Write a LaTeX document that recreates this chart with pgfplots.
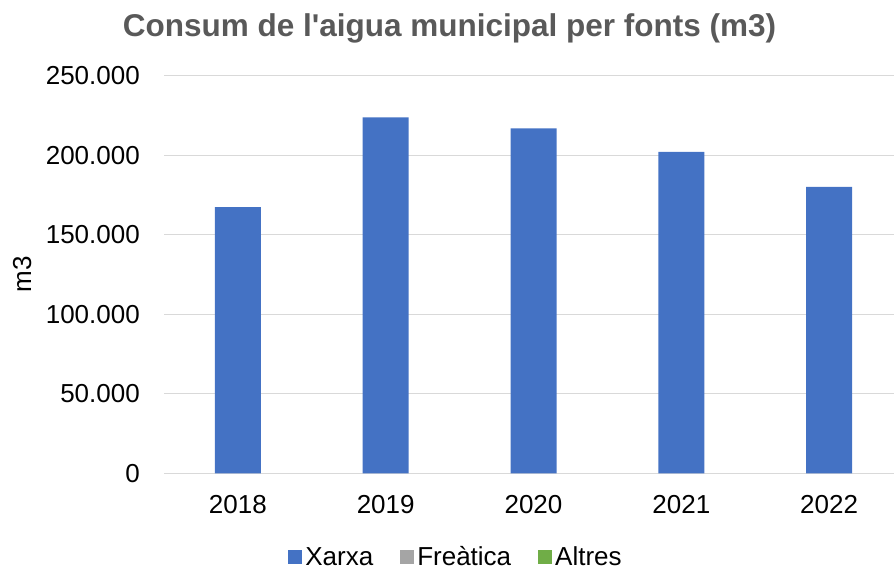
\documentclass[border=0pt]{standalone}
\usepackage{fontspec}
\setmainfont{Liberation Sans}
\usepackage{pgfplots}
\pgfplotsset{compat=1.18}
\definecolor{xarxa}{HTML}{4472C4}
\definecolor{freatica}{HTML}{A5A5A5}
\definecolor{altres}{HTML}{70AD47}
\definecolor{titlegray}{HTML}{595959}
\definecolor{gridgray}{HTML}{D9D9D9}
\begin{document}
\begin{tikzpicture}
\useasboundingbox (0,0) rectangle (894pt,577pt);
\begin{axis}[
  at={(164pt,103.7pt)}, anchor=south west,
  scale only axis, width=739pt, height=397.8pt,
  xmin=-0.5, xmax=4.5, ymin=0, ymax=250000,
  ytick={0,50000,100000,150000,200000,250000},
  xtick={0,1,2,3,4},
  xticklabels={2018,2019,2020,2021,2022},
  scaled y ticks=false,
  yticklabel={\pgfmathprintnumber[fixed,precision=0,1000 sep={.},assume math mode=true]{\tick}},
  axis line style={draw=none},
  major tick length=0pt,
  ymajorgrids, grid style={gridgray, line width=1pt},
  ticklabel style={font=\fontsize{26}{31}\selectfont, text=black},
  yticklabel style={inner sep=0pt, xshift=-24pt},
  xticklabel style={inner sep=0pt, yshift=-22pt},
  ylabel={m3},
  ylabel style={font=\fontsize{26}{31}\selectfont, at={(axis description cs:-0.192,0.5)}, anchor=center},
  title={Consum de l\textquotesingle aigua municipal per fonts (m3)},
  title style={font=\fontsize{31.5}{37}\selectfont\bfseries, text=titlegray, at={(axis description cs:0.3863,1.104)}, anchor=center},
  legend columns=3,
  legend style={at={(axis description cs:0.3958,-0.21)}, anchor=center, draw=none, fill=none,
    font=\fontsize{26}{31}\selectfont, /tikz/every even column/.append style={column sep=24pt},
    nodes={inner sep=3pt}},
  legend image code/.code={\fill[#1] (0pt,-7pt) rectangle (14pt,7pt);},
]
\addplot[ybar, bar width=46pt, fill=xarxa, draw=none] coordinates {(0,167200) (1,223700) (2,216800) (3,202000) (4,180000)};
\addlegendentry{Xarxa}
\addlegendimage{fill=freatica, draw=none}
\addlegendentry{Freàtica}
\addlegendimage{fill=altres, draw=none}
\addlegendentry{Altres}
\end{axis}
\end{tikzpicture}
\end{document}
